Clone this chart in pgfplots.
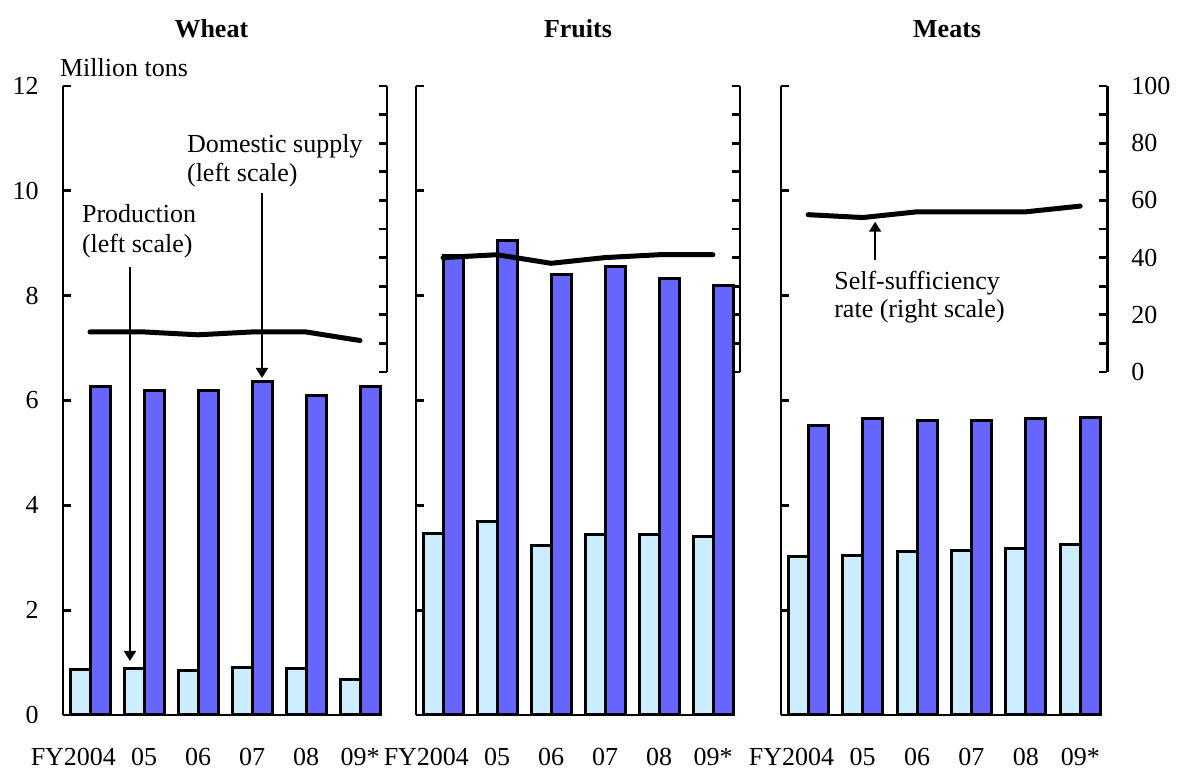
\documentclass[border=0pt]{standalone}
\usepackage{pgfplots}
\pgfplotsset{compat=1.18}
\usepackage{fontspec}
\setmainfont{Liberation Serif}
\usetikzlibrary{arrows.meta}
\definecolor{prod}{HTML}{CCECFF}
\definecolor{supp}{HTML}{6666FF}
\pgfplotsset{
  baraxis/.style={
    scale only axis, anchor=south west, height=314.5pt,
    ymin=0, ymax=12, xmin=-0.5, xmax=5.37, enlargelimits=false, clip=false,
    axis x line*=bottom, axis y line*=left,
    axis line style={line width=1.4pt},
    ybar=0pt, bar width=10pt,
    xtick={0,...,5}, xticklabels={\llap{FY}2004,05,06,07,08,09*},
    major x tick style={draw=none},
    xticklabel style={yshift=-13pt},
    ytick={0,2,...,12}, tick align=inside, major tick length=4pt,
    y tick style={line width=1.4pt, black},
    tick label style={font=\fontsize{13}{15}\selectfont},
    /pgf/number format/assume math mode=true,
    yticklabel style={xshift=-8.7pt},
    title style={font=\bfseries\fontsize{13}{15}\selectfont, anchor=base, yshift=18pt},
  },
  secaxis/.style={
    scale only axis, anchor=south west, height=143pt,
    xmin=-0.5, xmax=5.5, ymin=0, ymax=100, enlargelimits=false,
    axis x line=none, axis y line*=right,
    axis line style={line width=1.4pt},
    ytick={0,10,...,100}, yticklabels={},
    tick align=inside, major tick length=4pt, minor tick length=4pt,
    y tick style={line width=1.4pt, black},
    tick label style={font=\fontsize{13}{15}\selectfont},
    /pgf/number format/assume math mode=true,
  },
  prodbar/.style={fill=prod, draw=black, line width=1.5pt},
  suppbar/.style={fill=supp, draw=black, line width=1.5pt},
  rateline/.style={black, line width=2.5pt, line cap=round, line join=round, mark=none},
}
\begin{document}
\begin{tikzpicture}[font=\fontsize{13}{15}\selectfont]
\path[use as bounding box] (0,0) rectangle (589.5pt,384.5pt);
% ---------------- Wheat
\begin{axis}[baraxis, at={(31.5pt,27pt)}, width=158.5pt,
  title={Wheat}, title style={at={(0.468,1)}}]
\addplot[prodbar] coordinates {(0,0.86) (1,0.88) (2,0.84) (3,0.91) (4,0.88) (5,0.67)};
\addplot[suppbar] coordinates {(0,6.26) (1,6.19) (2,6.20) (3,6.36) (4,6.09) (5,6.26)};
\node[anchor=base west, xshift=-5pt, yshift=4.5pt] at (rel axis cs:0,1) {Million tons};
\node[anchor=base west] at (axis cs:-0.278,9.39) {Production};
\node[anchor=base west] at (axis cs:-0.278,8.82) {(left scale)};
\node[anchor=base west] at (axis cs:1.667,10.73) {Domestic supply};
\node[anchor=base west] at (axis cs:1.667,10.17) {(left scale)};
\draw[-{Triangle[length=5pt,width=6pt]}, line width=1pt] (axis cs:0.74,8.55) -- (axis cs:0.74,1.03);
\draw[-{Triangle[length=5pt,width=6pt]}, line width=1pt] (axis cs:3.185,9.96) -- (axis cs:3.185,6.43);
\end{axis}
\begin{axis}[secaxis, at={(31.5pt,198.5pt)}, width=162pt]
\addplot[rateline] coordinates {(0,14) (1,14) (2,13) (3,14) (4,14) (5,11)};
\end{axis}
% ---------------- Fruits
\begin{axis}[baraxis, at={(208pt,27pt)}, width=158.5pt, yticklabels={},
  title={Fruits}, title style={at={(0.511,1)}}]
\addplot[prodbar] coordinates {(0,3.47) (1,3.70) (2,3.23) (3,3.45) (4,3.44) (5,3.40)};
\addplot[suppbar] coordinates {(0,8.77) (1,9.05) (2,8.40) (3,8.56) (4,8.32) (5,8.20)};
\end{axis}
\begin{axis}[secaxis, at={(208pt,198.5pt)}, width=162pt]
\addplot[rateline] coordinates {(0,40) (1,41) (2,38) (3,40) (4,41) (5,41)};
\end{axis}
% ---------------- Meats
\begin{axis}[baraxis, at={(390.5pt,27pt)}, width=159.7pt, yticklabels={},
  title={Meats}, title style={at={(0.52,1)}}]
\addplot[prodbar] coordinates {(0,3.03) (1,3.05) (2,3.12) (3,3.13) (4,3.18) (5,3.26)};
\addplot[suppbar] coordinates {(0,5.53) (1,5.66) (2,5.62) (3,5.61) (4,5.66) (5,5.68)};
\node[anchor=base west] at (axis cs:0.35,8.11) {Self-sufficiency};
\node[anchor=base west] at (axis cs:0.35,7.58) {rate (right scale)};
\draw[-{Triangle[length=5pt,width=6pt]}, line width=1pt] (axis cs:1.23,8.68) -- (axis cs:1.23,9.41);
\end{axis}
\begin{axis}[secaxis, at={(390.5pt,198.5pt)}, width=163.2pt,
  ytick={0,20,...,100}, minor ytick={10,30,...,90},
  yticklabels={0,20,40,60,80,100},
  yticklabel style={xshift=8.4pt},
  minor y tick style={line width=1.4pt, black}]
\addplot[rateline] coordinates {(0,55) (1,54) (2,56) (3,56) (4,56) (5,58)};
\node[anchor=base, xshift=-1.5pt, yshift=4pt] at (rel axis cs:1,1) {\%};
\end{axis}
\end{tikzpicture}
\end{document}
